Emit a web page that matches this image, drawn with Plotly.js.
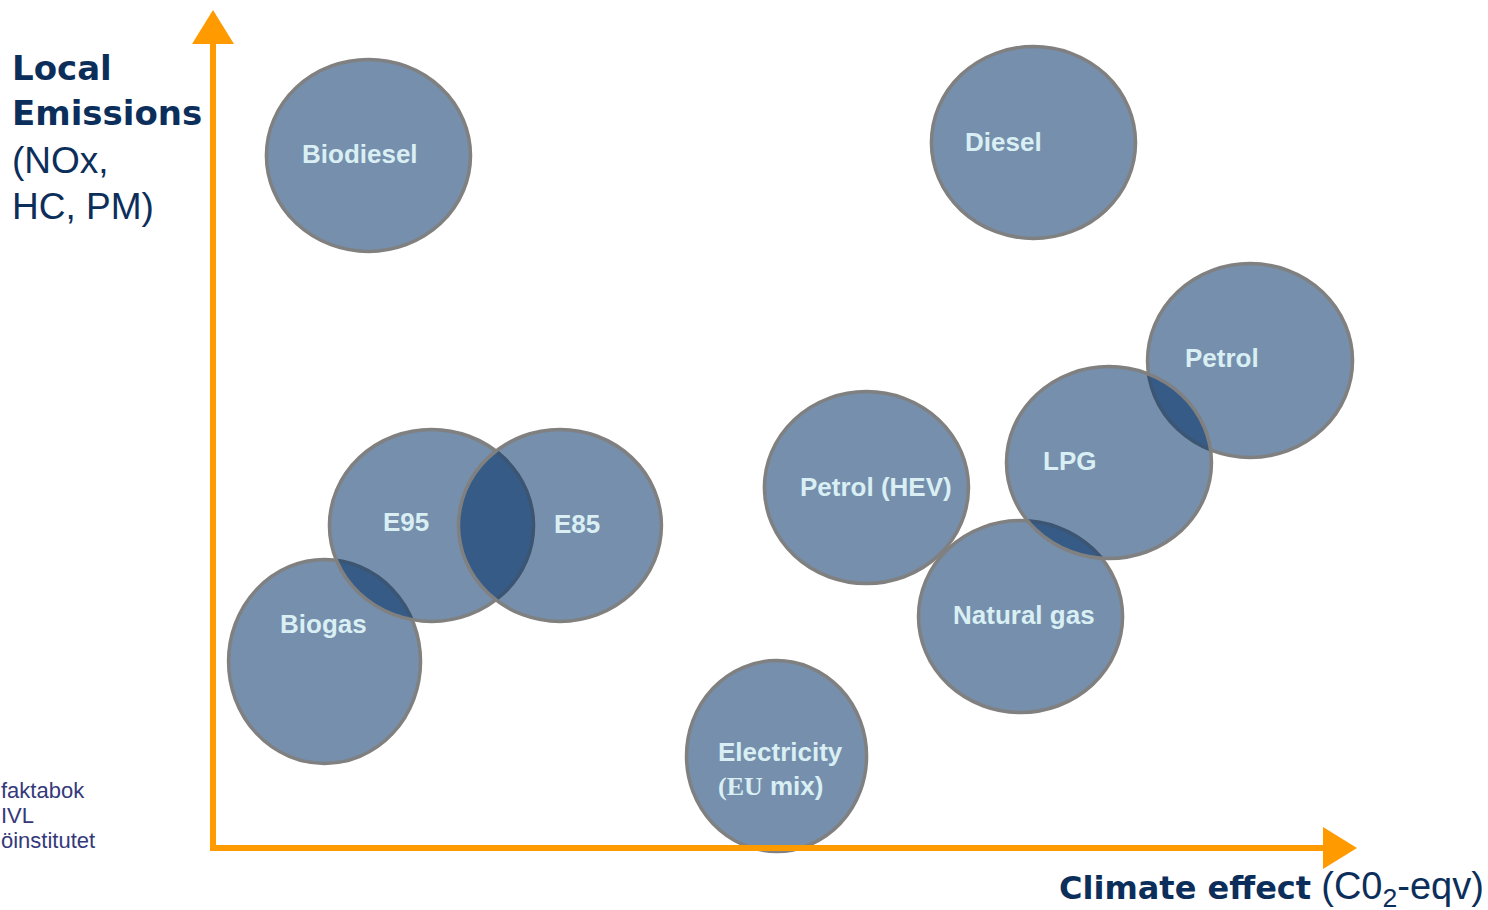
<!DOCTYPE html>
<html>
<head>
<meta charset="utf-8">
<script src="https://cdn.plot.ly/plotly-3.0.1.min.js"></script>
<style>
  html, body { margin: 0; padding: 0; background: #ffffff; }
  #chart { width: 1488px; height: 910px; }
</style>
</head>
<body>
<div id="chart"></div>
<script>
// ---- Data (climate effect on x, local emissions on y; both 0..100 along the arrows) ----
const fuels    = ['Biodiesel', 'Diesel', 'Biogas', 'E95', 'E85', 'Petrol (HEV)', 'Petrol', 'Natural gas', 'LPG', 'Electricity'];
const climateX = [13.59, 71.72,  9.75, 19.10, 30.33, 57.12, 90.65, 70.59, 78.32, 49.26];
const localY   = [82.84, 84.39, 22.31, 38.58, 38.58, 43.12, 58.31, 27.69, 46.11, 11.00];
const spreadX  = [ 8.92,  8.92,  8.39,  8.92,  8.87,  8.92,  8.96,  8.92,  8.96,  7.87];
const spreadY  = [11.48, 11.48, 12.20, 11.48, 11.48, 11.48, 11.60, 11.48, 11.48, 11.42];
const labelX   = [ 7.60, 65.60,  5.65, 14.65, 29.60, 51.10, 84.75, 64.55, 72.40, 44.00];
const labelY   = [83.01, 84.45, 26.79, 39.00, 38.76, 43.18, 58.61, 27.87, 46.29,  9.45];
const labelText = ['Biodiesel', 'Diesel', 'Biogas', 'E95', 'E85', 'Petrol (HEV)', 'Petrol', 'Natural gas', 'LPG',
  'Electricity<br><span style="font-family:\'Liberation Serif\', serif">(EU</span> mix)'];
const yTitleBold = ['Local', 'Emissions'];
const yTitleNormal = ['(NOx,', 'HC, PM)'];
const xTitleBold = 'Climate effect';
const xTitleNormal = '(C0<sub>2</sub>-eqv)';
const sourceLines = ['faktabok', 'IVL', 'öinstitutet'];

// ---- Geometry of the canvas ----
const W = 1488, H = 910;
const originPx = [213, 848];
const pxPerX = (1357 - 213) / 100;
const pxPerY = (848 - 12) / 100;
const xRange = [-originPx[0] / pxPerX, (W - originPx[0]) / pxPerX];
const yRange = [-(H - originPx[1]) / pxPerY, originPx[1] / pxPerY];

const ORANGE = '#ff9a00';
const FILL = 'rgba(0,48,102,0.54)';
const OUTLINE = '#808080';
const LABEL = '#d9eff4';
const NAVY = '#0c2e5a';

const shapes = [];
fuels.forEach((f, i) => {
  shapes.push({
    type: 'circle', xref: 'x', yref: 'y', layer: 'above',
    x0: climateX[i] - spreadX[i], x1: climateX[i] + spreadX[i],
    y0: localY[i] - spreadY[i], y1: localY[i] + spreadY[i],
    fillcolor: FILL, line: { color: OUTLINE, width: 3.5 }
  });
});

// axes with arrows
const headLen = 34, headHalf = 21;
shapes.push({
  type: 'line', xref: 'x', yref: 'y', layer: 'above',
  x0: 0, x1: 0, y0: -3 / pxPerY, y1: 100 - (headLen - 2) / pxPerY,
  line: { color: ORANGE, width: 6 }
});
shapes.push({
  type: 'line', xref: 'x', yref: 'y', layer: 'above',
  x0: -3 / pxPerX, x1: 100 - (headLen - 2) / pxPerX, y0: 0, y1: 0,
  line: { color: ORANGE, width: 6 }
});
shapes.push({
  type: 'path', xref: 'x', yref: 'y', layer: 'above',
  xsizemode: 'pixel', ysizemode: 'pixel', xanchor: 0, yanchor: 100,
  path: `M0,2 L${-headHalf},${-headLen + 2} L${headHalf},${-headLen + 2} Z`,
  fillcolor: ORANGE, line: { width: 0, color: ORANGE }
});
shapes.push({
  type: 'path', xref: 'x', yref: 'y', layer: 'above',
  xsizemode: 'pixel', ysizemode: 'pixel', xanchor: 100, yanchor: 0,
  path: `M0,0 L${-headLen},${headHalf} L${-headLen},${-headHalf} Z`,
  fillcolor: ORANGE, line: { width: 0, color: ORANGE }
});

const annotations = [];
fuels.forEach((f, i) => {
  annotations.push({
    xref: 'x', yref: 'y', x: labelX[i], y: labelY[i],
    xanchor: 'left', yanchor: 'middle', align: 'left', showarrow: false,
    text: '<b>' + labelText[i] + '</b>',
    font: { family: 'Liberation Sans, Arial, sans-serif', size: 26, color: LABEL }
  });
});

// y axis title, one line each
const yTitleCenters = [68, 113, 160, 207];
yTitleBold.concat(yTitleNormal).forEach((t, i) => {
  const bold = i < yTitleBold.length;
  annotations.push({
    xref: 'paper', yref: 'paper', x: 10 / W, y: 1 - yTitleCenters[i] / H,
    xanchor: 'left', yanchor: 'middle', align: 'left', showarrow: false,
    text: bold ? '<b>' + t + '</b>' : t,
    font: bold ? { family: 'DejaVu Sans, Verdana, sans-serif', size: 34, color: NAVY }
               : { family: 'Liberation Sans, Arial, sans-serif', size: 37, color: NAVY }
  });
});

// x axis title
annotations.push({
  xref: 'paper', yref: 'paper', x: 1486 / W, y: (H - 889) / H,
  xanchor: 'right', yanchor: 'middle', align: 'left', showarrow: false,
  text: '<b>' + xTitleBold + '</b> <span style="font-family:\'Liberation Sans\', Arial, sans-serif;font-size:38px">' + xTitleNormal + '</span>',
  font: { family: 'DejaVu Sans, Verdana, sans-serif', size: 32, color: NAVY }
});

// source note
sourceLines.forEach((t, i) => {
  annotations.push({
    xref: 'paper', yref: 'paper', x: -1 / W, y: (H - (790 + 25 * i)) / H,
    xanchor: 'left', yanchor: 'middle', align: 'left', showarrow: false,
    text: t,
    font: { family: 'Liberation Sans, Arial, sans-serif', size: 22, color: '#35397a' }
  });
});

const layout = {
  width: W, height: H,
  margin: { l: 0, r: 0, t: 0, b: 0 },
  paper_bgcolor: '#ffffff', plot_bgcolor: '#ffffff',
  showlegend: false,
  xaxis: { range: xRange, visible: false, fixedrange: true },
  yaxis: { range: yRange, visible: false, fixedrange: true },
  shapes: shapes,
  annotations: annotations
};

Plotly.newPlot('chart', [], layout, { staticPlot: true, displayModeBar: false });
</script>
</body>
</html>
